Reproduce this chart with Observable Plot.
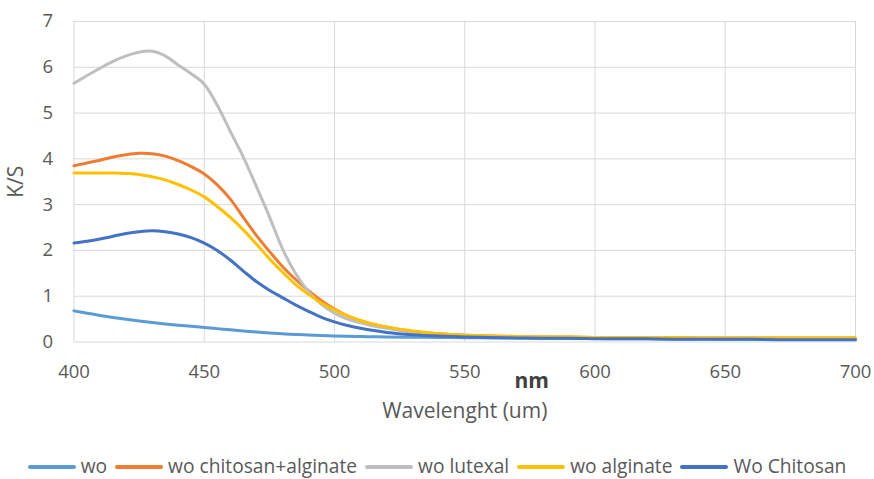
<!DOCTYPE html>
<html><head><meta charset="utf-8">
<script src="https://cdn.jsdelivr.net/npm/d3@7"></script>
<script src="https://cdn.jsdelivr.net/npm/@observablehq/plot@0.6"></script>
<style>
html,body{margin:0;padding:0;background:#fff}
body{width:874px;height:479px;overflow:hidden;position:relative;font-family:"Open Sans",sans-serif}
#chart{position:absolute;left:0;top:0}
#legend{position:absolute;left:0;top:452px;width:874px;display:flex;justify-content:center;align-items:center;color:#595959;font-size:19.2px;white-space:nowrap;font-family:'Segoe UI','Open Sans',sans-serif}
#legend .item{display:flex;align-items:center;margin:0 4px}
#legend .sw{display:inline-block;width:48px;height:4px;border-radius:2px;margin-right:5px;position:relative;top:1.5px}
</style></head><body><div id="chart"></div><div id="legend"></div>
<script>
const wavelengths = [400,405,410,415,420,425,430,435,440,445,450,455,460,465,470,475,480,485,490,495,500,505,510,515,520,530,540,550,560,570,580,590,600,610,620,630,640,650,660,670,680,690,700];
const wo =               [0.68,0.63,0.58,0.535,0.495,0.458,0.425,0.395,0.368,0.343,0.318,0.292,0.265,0.24,0.217,0.197,0.18,0.165,0.152,0.141,0.132,0.125,0.119,0.114,0.11,0.104,0.099,0.094,0.09,0.086,0.082,0.078,0.075,0.072,0.069,0.066,0.064,0.062,0.06,0.058,0.056,0.054,0.052];
const chitosanAlginate = [3.85,3.91,3.97,4.04,4.09,4.12,4.11,4.06,3.96,3.83,3.67,3.43,3.12,2.72,2.33,1.98,1.65,1.37,1.12,0.90,0.72,0.57,0.46,0.38,0.32,0.23,0.18,0.15,0.13,0.12,0.11,0.11,0.10,0.10,0.10,0.10,0.09,0.09,0.09,0.09,0.09,0.09,0.09];
const lutexal =          [5.65,5.82,5.98,6.13,6.25,6.33,6.35,6.25,6.05,5.86,5.63,5.17,4.60,4.04,3.40,2.74,2.04,1.50,1.10,0.82,0.63,0.50,0.42,0.35,0.30,0.21,0.16,0.14,0.12,0.11,0.11,0.10,0.10,0.10,0.09,0.09,0.09,0.09,0.09,0.08,0.08,0.08,0.08];
const alginate =         [3.69,3.69,3.69,3.69,3.68,3.66,3.61,3.54,3.44,3.32,3.17,2.96,2.72,2.45,2.14,1.82,1.53,1.26,1.04,0.85,0.70,0.57,0.47,0.39,0.33,0.24,0.18,0.15,0.13,0.12,0.11,0.11,0.10,0.10,0.10,0.10,0.09,0.09,0.09,0.09,0.09,0.09,0.09];
const chitosan =         [2.16,2.20,2.25,2.31,2.37,2.41,2.43,2.41,2.36,2.28,2.16,2.00,1.79,1.55,1.32,1.13,0.97,0.81,0.67,0.54,0.44,0.36,0.30,0.25,0.21,0.16,0.13,0.11,0.10,0.09,0.08,0.08,0.07,0.07,0.07,0.06,0.06,0.06,0.06,0.05,0.05,0.05,0.05];
const seriesNames = ["wo","wo chitosan+alginate","wo lutexal","wo alginate","Wo Chitosan"];
const seriesColors = ["#5B9BD5","#ED7D31","#BFBFBF","#FFC000","#4472C4"];
const xTicks = [400,450,500,550,600,650,700];
const yTicks = [0,1,2,3,4,5,6,7];
const xLabel = "Wavelenght (um)";
const yLabel = "K/S";
const unitLabel = "nm";

const seriesValues = [wo, chitosanAlginate, lutexal, alginate, chitosan];
const rows = seriesNames.flatMap((name, i) => wavelengths.map((w, j) => ({name, w, v: seriesValues[i][j]})));

const font = "'Segoe UI','Open Sans',sans-serif";
const chart = Plot.plot({
  width: 874, height: 445,
  marginTop: 21, marginLeft: 73.5, marginRight: 19, marginBottom: 103.5,
  style: {fontFamily: font, fontSize: "18.5px", color: "#595959", background: "#fff", overflow: "visible"},
  x: {domain: [400, 700]},
  y: {domain: [0, 7]},
  color: {domain: seriesNames, range: seriesColors},
  marks: [
    Plot.gridX(xTicks, {stroke: "#d9d9d9", strokeOpacity: 1, strokeWidth: 1}),
    Plot.gridY(yTicks, {stroke: "#d9d9d9", strokeOpacity: 1, strokeWidth: 1}),
    Plot.axisX(xTicks, {tickSize: 0, tickPadding: 23, fill: "#595959", label: null}),
    Plot.axisY(yTicks, {tickSize: 0, tickPadding: 21, fill: "#595959", label: null}),
    Plot.axisX([], {tickSize: 0, fill: "#595959", fontSize: 21, label: xLabel, labelAnchor: "center", labelOffset: 75.5, labelArrow: "none"}),
    Plot.axisY([], {tickSize: 0, fill: "#595959", fontSize: 21, label: yLabel, labelAnchor: "center", labelOffset: 66, labelArrow: "none"}),
    Plot.line(rows, {x: "w", y: "v", z: "name", stroke: "name", strokeWidth: 3, curve: "catmull-rom", strokeLinecap: "round", strokeLinejoin: "round"}),
    Plot.text([unitLabel], {frameAnchor: "bottom", dx: 67, dy: 39, fontSize: 21, fontWeight: "bold", fill: "#404040", lineAnchor: "middle"})
  ]
});
document.getElementById("chart").appendChild(chart);

const legend = d3.select("#legend");
seriesNames.forEach((name, i) => {
  const item = legend.append("div").attr("class", "item");
  item.append("span").attr("class", "sw").style("background", seriesColors[i]);
  item.append("span").text(name);
});
</script>
</body></html>
